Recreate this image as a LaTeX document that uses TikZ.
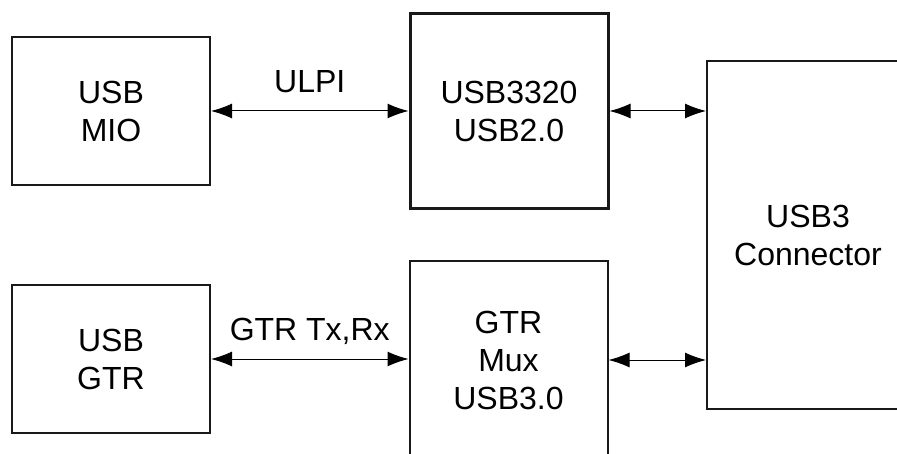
\documentclass[tikz,border=0pt]{standalone}
\usepackage{fontspec}
\setmainfont{Liberation Sans}
\usetikzlibrary{arrows.meta}
\begin{document}
\begin{tikzpicture}[x=1pt,y=-1pt,
 blk/.style={draw=black!90, line width=2pt, minimum width=198pt, align=center, font=\fontsize{32}{38}\selectfont, inner sep=0pt},
 link/.style={line width=1pt, {Latex[length=21pt,width=15pt]}-{Latex[length=21pt,width=15pt]}},
 lbl/.style={font=\fontsize{32}{38}\selectfont, anchor=base, inner sep=0pt}]
\useasboundingbox (0,0) rectangle (897,454);
\clip (0,0) rectangle (897,454);
\node[blk, minimum height=148pt] (mio) at (111,111) {USB\\MIO};
\node[blk, minimum height=148pt] (gtr) at (111,359) {USB\\GTR};
\node[blk, line width=3pt, minimum height=195pt] (phy) at (509,111) {USB3320\\USB2.0};
\node[blk, minimum height=198pt] (mux) at (508.5,360) {GTR\\Mux\\USB3.0};
\node[blk, minimum width=202pt, minimum height=348pt] (conn) at (808,235) {USB3\\Connector};
\draw[link] (mio.east) -- (phy.west) node[lbl, midway, yshift=18pt] (l1) {ULPI};
\draw[link] (gtr.east) -- (gtr.east -| mux.west) node[lbl, midway, yshift=18pt] (l2) {GTR Tx,Rx};
\draw[link] (phy.east) -- (phy.east -| conn.west);
\draw[link] (mux.east) -- (mux.east -| conn.west);
\end{tikzpicture}
\end{document}
